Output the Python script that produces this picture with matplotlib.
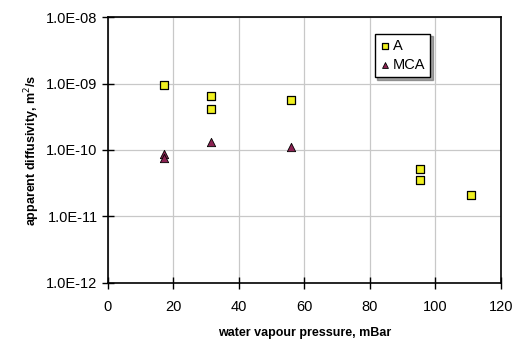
import matplotlib
matplotlib.use('Agg')
import matplotlib.pyplot as plt
from matplotlib.ticker import FixedLocator, FuncFormatter, NullLocator

plt.rcParams['font.family'] = ['Liberation Sans', 'DejaVu Sans']

# A series
a_x = [17, 31.6, 31.6, 55.8, 95.2, 95.2, 111]
a_y = [9.4e-10, 6.45e-10, 4.1e-10, 5.56e-10, 5.1e-11, 3.55e-11, 2.1e-11]
# MCA series
mca_x = [17, 17, 31.6, 55.8]
mca_y = [8.7e-11, 7.6e-11, 1.3e-10, 1.12e-10]

x_ticks = [0, 20, 40, 60, 80, 100, 120]
y_ticks = [1e-12, 1e-11, 1e-10, 1e-9, 1e-8]

fig = plt.figure(figsize=(5.19, 3.42), dpi=100)
ax = fig.add_axes([0.208, 0.173, 0.757, 0.777])

ax.set_yscale('log')
ax.set_xlim(0, 120)
ax.set_ylim(1e-12, 1e-8)
ax.xaxis.set_major_locator(FixedLocator(x_ticks))
ax.yaxis.set_major_locator(FixedLocator(y_ticks))
ax.yaxis.set_minor_locator(NullLocator())
ax.yaxis.set_major_formatter(FuncFormatter(lambda v, p: '%.1E' % v))

ax.grid(True, color='#c8c8c8', linewidth=0.9)
ax.set_axisbelow(True)
for s in ax.spines.values():
    s.set_linewidth(1.2)
    s.set_color('black')
ax.tick_params(direction='inout', length=9, width=1, labelsize=10.5, colors='black')
ax.tick_params(axis='y', pad=3)
ax.tick_params(axis='x', pad=8)

ax.scatter(a_x, a_y, marker='s', s=36, facecolor='#f0f020', edgecolor='black',
           linewidth=0.9, label='A', zorder=3)
ax.scatter(mca_x, mca_y, marker='^', s=36, facecolor='#8b2252', edgecolor='black',
           linewidth=0.6, label='MCA', zorder=3)

ax.set_xlabel('water vapour pressure, mBar', fontsize=9, fontweight='bold', labelpad=9)
ax.set_ylabel('apparent diffusivity, m$^2$/s', fontsize=9, fontweight='bold', labelpad=3)

leg = ax.legend(loc='upper left', bbox_to_anchor=(0.66, 0.965), fontsize=10.5,
                frameon=True, fancybox=False, shadow=True, handletextpad=0.1,
                handlelength=0.8, borderpad=0.35, labelspacing=0.35, markerscale=0.7)
leg.get_frame().set_edgecolor('black')
leg.get_frame().set_linewidth(1.0)

fig.savefig('out.png', dpi=100)
